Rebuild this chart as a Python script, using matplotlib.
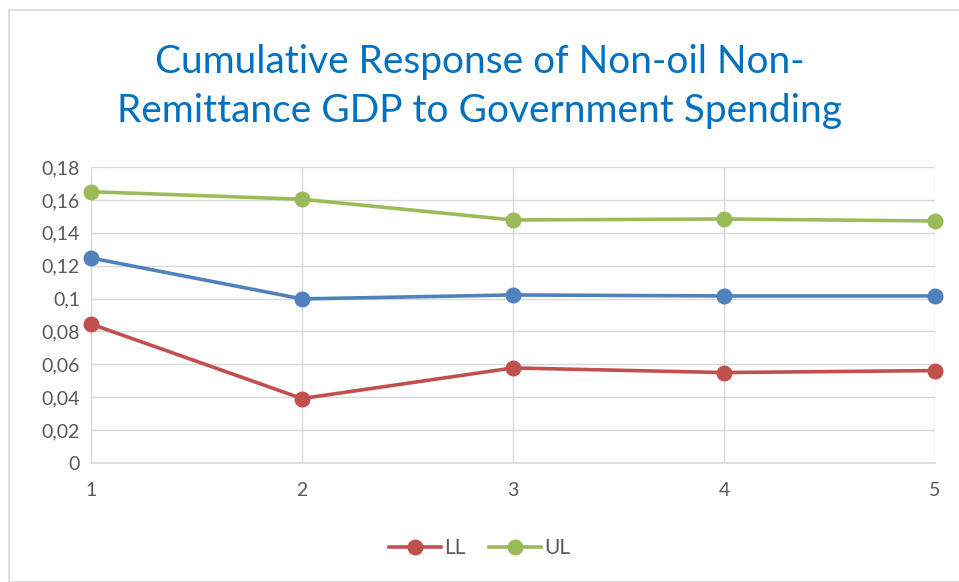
import matplotlib.pyplot as plt
from matplotlib.patches import Rectangle

plt.rcParams['font.family'] = ['Lato', 'DejaVu Sans']

periods = [1, 2, 3, 4, 5]
response = [0.1247, 0.0998, 0.1022, 0.1016, 0.1016]
ll = [0.0845, 0.0392, 0.0578, 0.0550, 0.0562]
ul = [0.1650, 0.1604, 0.1478, 0.1484, 0.1472]
yticks = [0, 0.02, 0.04, 0.06, 0.08, 0.1, 0.12, 0.14, 0.16, 0.18]
ytick_labels = ['0', '0,02', '0,04', '0,06', '0,08', '0,1', '0,12', '0,14', '0,16', '0,18']

fig = plt.figure(figsize=(9.59, 5.82), dpi=100)
ax = fig.add_axes([0.0949, 0.2045, 0.8801, 0.5085])

# chart frame
fig.patches.append(Rectangle((9 / 959, 0), 1.0, 1 - 10 / 582, transform=fig.transFigure,
                             fill=False, edgecolor='#d9d9d9', linewidth=1.2))

ax.plot(periods, response, color='#4F81BD', lw=2.6, marker='o', ms=10.5, zorder=3, clip_on=False)
ax.plot(periods, ll, color='#C0504D', lw=2.6, marker='o', ms=10.5, label='LL', zorder=3, clip_on=False)
ax.plot(periods, ul, color='#9BBB59', lw=2.6, marker='o', ms=10.5, label='UL', zorder=3, clip_on=False)

ax.set_xlim(1, 5)
ax.set_ylim(0, 0.18)
ax.set_xticks(periods)
ax.set_yticks(yticks)
ax.set_yticklabels(ytick_labels)
ax.grid(True, color='#d9d9d9', linewidth=1)
ax.set_axisbelow(True)
for s in ['top', 'right', 'left']:
    ax.spines[s].set_visible(False)
ax.spines['bottom'].set_color('#d9d9d9')
ax.spines['bottom'].set_linewidth(1.2)
ax.tick_params(length=0, labelsize=14, labelcolor='#595959')
ax.tick_params(axis='x', pad=14)
ax.tick_params(axis='y', pad=8)

fig.text(0.5, 0.851, 'Cumulative Response of Non-oil Non-\nRemittance GDP to Government Spending',
         ha='center', va='center', fontsize=28, color='#0070C0', linespacing=1.45)

leg = fig.legend(loc='center', bbox_to_anchor=(0.5, 0.058), ncol=2, frameon=False,
                 fontsize=15, handlelength=2.5, columnspacing=1.1, handletextpad=0.15)
for t in leg.get_texts():
    t.set_color('#595959')

fig.savefig('out.png', dpi=100)
